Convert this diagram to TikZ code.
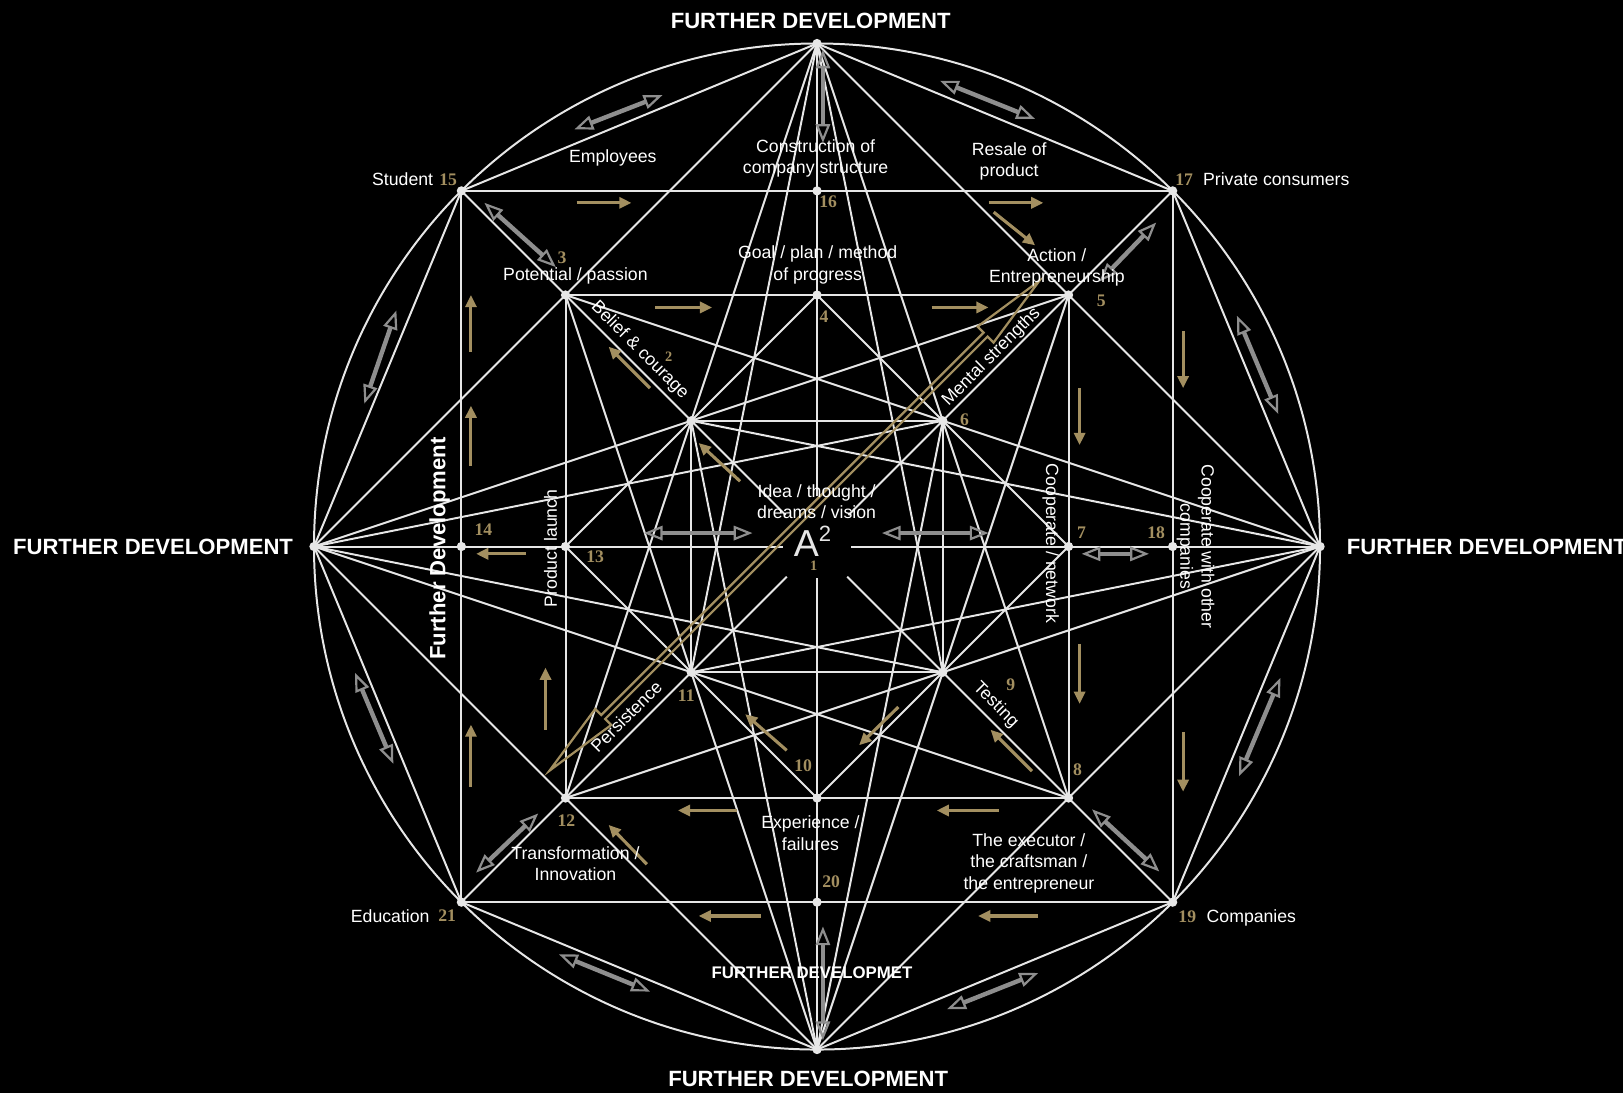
\documentclass[tikz,border=0pt]{standalone}
\usepackage{fontspec}
\setmainfont{Liberation Sans}
\newfontfamily\numfont{Liberation Serif}
\usetikzlibrary{arrows.meta,calc}
\definecolor{Gold}{HTML}{A38F60}
\definecolor{LineW}{HTML}{E6E6E6}
\definecolor{ArrGray}{HTML}{8E8E8E}

\tikzset{
  geo/.style={LineW, line width=0.9pt},
  dot/.style={circle, fill=LineW, inner sep=0pt, minimum size=4.2pt},
  num/.style={text=Gold, font=\numfont\bfseries\fontsize{8}{9}\selectfont, inner sep=0pt},
  lbl/.style={text=white, font=\fontsize{8}{9.6}\selectfont, align=center, inner sep=0pt},
  head/.style={text=white, font=\bfseries\fontsize{10}{12}\selectfont, inner sep=0pt},
  goldarr/.style={Gold, line width=1.4pt, -{Triangle[length=5.5pt,width=5pt]}},
  grayarr/.style={ArrGray, line width=2pt,
    {Triangle[open,length=8.5pt,width=6.5pt,line width=1pt]}-{Triangle[open,length=8.5pt,width=6.5pt,line width=1pt]}},
  golddbl/.style={draw=Gold, line width=1pt, line join=miter},
}

\begin{document}
\begin{tikzpicture}[x=2cm,y=2cm]
  \fill[black] (-6.497,-4.346) rectangle (6.409,4.346);
  \useasboundingbox (-6.497,-4.346) rectangle (6.409,4.346);

  % points of the figure
  \coordinate (T) at (0,4);  \coordinate (B) at (0,-4);
  \coordinate (L) at (-4,0); \coordinate (R) at (4,0);
  \coordinate (p15) at (-2.828,2.828); \coordinate (p17) at (2.828,2.828);
  \coordinate (p19) at (2.828,-2.828); \coordinate (p21) at (-2.828,-2.828);
  \coordinate (p16) at (0,2.828);  \coordinate (p20) at (0,-2.828);
  \coordinate (p14) at (-2.828,0); \coordinate (p18) at (2.828,0);
  \coordinate (p3) at (-2,2);  \coordinate (p5) at (2,2);
  \coordinate (p8) at (2,-2);  \coordinate (p12) at (-2,-2);
  \coordinate (p4) at (0,2);   \coordinate (p10) at (0,-2);
  \coordinate (p13) at (-2,0); \coordinate (p7) at (2,0);
  \coordinate (p2) at (-1,1);  \coordinate (p6) at (1,1);
  \coordinate (p9) at (1,-1);  \coordinate (p11) at (-1,-1);
  % ends of the lines round the centre
  \coordinate (gN) at (0,0.4);   \coordinate (gS) at (0,-0.25);
  \coordinate (gW) at (-0.27,0); \coordinate (gE) at (0.27,0);
  \coordinate (gNW) at (-0.25,0.25); \coordinate (gNE) at (0.25,0.25);
  \coordinate (gSW) at (-0.24,-0.24); \coordinate (gSE) at (0.24,-0.24);

  % construction lines
  \draw[geo] (0,0) circle (4);
  \draw[geo] (T)--(p17)--(R)--(p19)--(B)--(p21)--(L)--(p15)--cycle;
  \draw[geo] (T)--(R)--(B)--(L)--cycle;
  \draw[geo] (p15)--(p17)--(p19)--(p21)--cycle;
  \draw[geo] (p3)--(p5)--(p8)--(p12)--cycle;
  \draw[geo] (p4)--(p7)--(p10)--(p13)--cycle;
  \draw[geo] (p2)--(p6)--(p9)--(p11)--cycle;
  \foreach \a/\b in {T/gN,B/gS,L/gW,R/gE,p15/gNW,p17/gNE,p19/gSE,p21/gSW}
    \draw[geo] (\a)--(\b);
  \foreach \a/\b in {L/p5,L/p8,R/p3,R/p12,T/p12,T/p8,B/p3,B/p5,
                     L/p6,L/p9,R/p2,R/p11,T/p11,T/p9,B/p2,B/p6}
    \draw[geo] (\a)--(\b);

  \foreach \p in {T,B,L,R,p2,p3,p4,p5,p6,p7,p8,p9,p10,p11,p12,p13,p14,p15,p16,p17,p18,p19,p20,p21}
    \node[dot] (d\p) at (\p) {};

  % arrows
  \foreach \x/\y/\u/\v in {-1.912/2.733/-1.476/2.733, 1.364/2.733/1.8/2.733, 1.405/2.659/1.734/2.395,
      -1.287/1.901/-0.834/1.901, 0.911/1.901/1.364/1.901,
      -2.752/1.547/-2.752/2.0, -2.752/0.642/-2.752/1.12, 2.911/1.712/2.911/1.259,
      2.088/1.259/2.088/0.807, 2.088/-0.774/2.088/-1.251, 2.911/-1.473/2.911/-1.95,
      -2.752/-1.91/-2.752/-1.416, -2.159/-1.457/-2.159/-0.963, -2.316/-0.058/-2.711/-0.058,
      -0.637/-2.099/-1.106/-2.099, 1.446/-2.099/0.952/-2.099, -0.447/-2.938/-0.941/-2.938,
      1.759/-2.938/1.281/-2.938, -1.328/1.259/-1.657/1.589, -0.612/0.519/-0.941/0.823,
      -0.241/-1.621/-0.571/-1.333, -1.353/-2.527/-1.657/-2.214, 1.709/-1.786/1.38/-1.457,
      0.647/-1.276/0.335/-1.58}
    \draw[goldarr] (\x,\y) -- (\u,\v);
  \foreach \x/\y/\u/\v in {-1.929/3.317/-1.229/3.589, 0.977/3.704/1.734/3.4,
      -2.645/2.733/-2.077/2.222, 2.245/2.107/2.697/2.576, -3.345/1.877/-3.6/1.136,
      3.339/1.836/3.668/1.054, -3.674/-1.004/-3.369/-1.728, 3.685/-1.045/3.355/-1.827,
      -2.711/-2.593/-2.217/-2.123, 2.187/-2.09/2.722/-2.584, -2.052/-3.243/-1.328/-3.539,
      1.034/-3.679/1.759/-3.391, -1.377/0.107/-0.513/0.107, 0.516/0.107/1.364/0.107,
      2.104/-0.058/2.64/-0.058, 0.047/3.951/0.047/3.21, 0.047/-3.021/0.047/-3.926}
    \draw[grayarr] (\x,\y) -- (\u,\v);
  % long hollow double arrow
  \begin{scope}[shift={(-0.18,0.165)}, rotate=45]
    \draw[golddbl] (-2.755,0) -- (-2.15,0.09) -- (-2.15,0.022) -- (2.15,0.022) -- (2.15,0.09)
      -- (2.755,0) -- (2.15,-0.09) -- (2.15,-0.022) -- (-2.15,-0.022) -- (-2.15,-0.09) -- cycle;
  \end{scope}

  % headings
  \node[head] (hTop) at (-0.05,4.18) {FURTHER DEVELOPMENT};
  \node[head] (hLeft) at (-5.28,0) {FURTHER DEVELOPMENT};
  \node[head, anchor=west] (hRight) at (4.21,0) {FURTHER DEVELOPMENT};
  \node[head] (hBot) at (-0.07,-4.23) {FURTHER DEVELOPMENT};
  \node[head, font=\bfseries\fontsize{7.6}{9}\selectfont] (hMid) at (-0.04,-3.39) {FURTHER DEVELOPMET};
  \node[head, rotate=90] (hSide) at (-3.0,-0.016) {Further Development};

  % labels
  \node[lbl] (lStudent) at (-3.295,2.922) {Student};
  \node[lbl] (lPrivate) at (3.652,2.922) {Private consumers};
  \node[lbl] (lEducation) at (-3.394,-2.938) {Education};
  \node[lbl] (lCompanies) at (3.454,-2.955) {Companies};
  \node[lbl] (lEmployees) at (-1.624,3.087) {Employees};
  \node[lbl] (lStructure) at (-0.011,3.087) {Construction of\\company structure};
  \node[lbl] (lResale) at (1.528,3.062) {Resale of\\product};
  \node[lbl] (lPotential) at (-1.921,2.148) {Potential / passion};
  \node[lbl] (lGoal) at (0.005,2.239) {Goal / plan / method\\of progress};
  \node[lbl] (lAction) at (1.907,2.222) {Action /\\Entrepreneurship};
  \node[lbl, rotate=-45] (lBelief) at (-1.41,1.56) {Belief \& courage};
  \node[lbl, rotate=45] (lMental) at (1.388,1.506) {Mental strengths};
  \node[lbl] (lIdea) at (-0.003,0.354) {Idea / thought /\\dreams / vision};
  \node[text=LineW, font=\fontsize{17}{17}\selectfont, inner sep=0pt] (lA) at (-0.036,0.04)
    {A\raisebox{0.75ex}{\fontsize{10}{10}\selectfont 2}};
  \node[lbl, rotate=90] (lLaunch) at (-2.118,-0.016) {Product launch};
  \node[lbl, rotate=-90] (lNetwork) at (1.858,0.025) {Cooperate / network};
  \node[lbl, rotate=-90] (lOther) at (3.01,0) {Cooperate with other\\companies};
  \node[lbl, rotate=45] (lPersist) at (-1.517,-1.35) {Persistence};
  \node[lbl, rotate=-45] (lTesting) at (1.421,-1.26) {Testing};
  \node[lbl] (lExperience) at (-0.052,-2.28) {Experience /\\failures};
  \node[lbl] (lTransform) at (-1.921,-2.519) {Transformation /\\Innovation};
  \node[lbl] (lExecutor) at (1.685,-2.519) {The executor /\\the craftsman /\\the entrepreneur};

  % numbers
  \foreach \n/\x/\y in {15/-2.933/2.914, 17/2.919/2.914, 21/-2.941/-2.938, 19/2.944/-2.947,
      3/-2.028/2.296, 4/0.055/1.827, 5/2.261/1.951, 16/0.088/2.741,
      6/1.174/1.012, 14/-2.653/0.132, 13/-1.764/-0.082, 7/2.104/0.107, 18/2.697/0.107,
      11/-1.04/-1.185, 9/1.54/-1.1, 10/-0.11/-1.745, 8/2.072/-1.778, 12/-1.993/-2.181,
      20/0.112/-2.667}
    \node[num] (n\n) at (\x,\y) {\n};
  \node[num, font=\numfont\bfseries\fontsize{6.5}{7}\selectfont] (n2) at (-1.18,1.51) {2};
  \node[num, font=\numfont\bfseries\fontsize{6.5}{7}\selectfont] (n1) at (-0.027,-0.15) {1};
\end{tikzpicture}
\end{document}
